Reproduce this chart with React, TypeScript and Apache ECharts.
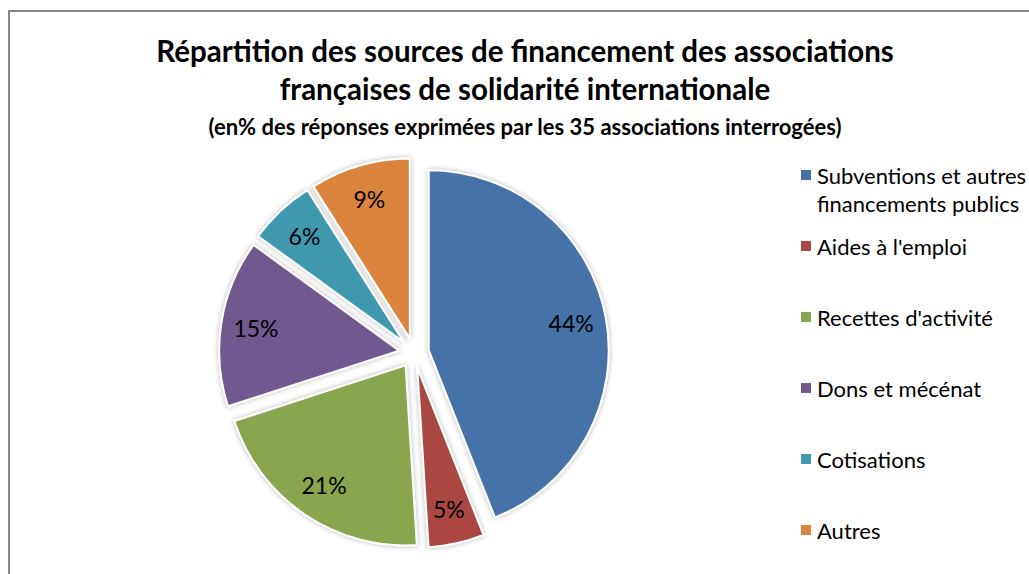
import React, { useEffect, useRef } from "react";
import * as echarts from "echarts";

const categories = [
  "Subventions et autres financements publics",
  "Aides à l'emploi",
  "Recettes d'activité",
  "Dons et mécénat",
  "Cotisations",
  "Autres",
];
const values = [44, 5, 21, 15, 6, 9];
const colors = ["#4572A7", "#AA4643", "#89A54E", "#71588F", "#4198AF", "#DB843D"];
const titleLines = [
  "Répartition des sources de financement des associations",
  "françaises de solidarité internationale",
];
const subtitle = "(en% des réponses exprimées par les 35 associations interrogées)";

export default function App() {
  const ref = useRef<HTMLDivElement>(null);
  useEffect(() => {
    if (!ref.current) return;
    const chart = echarts.init(ref.current, null, { renderer: "svg" });
    const data = categories.map((name, i) => ({
      name,
      value: values[i],
      selected: true,
      itemStyle: { color: colors[i] },
    }));
    const common = {
      type: "pie",
      center: [414, 353],
      startAngle: 90,
      clockwise: true,
      selectedMode: "multiple",
      selectedOffset: 15,
      avoidLabelOverlap: false,
      emphasis: { disabled: true },
      labelLine: { show: false },
    };
    chart.setOption({
      animation: false,
      color: colors,
      title: {
        text: titleLines.join("\n"),
        subtext: subtitle,
        left: 520,
        top: 26,
        textAlign: "center",
        padding: 5,
        itemGap: 7,
        textStyle: {
          fontFamily: "Lato",
          fontWeight: "bold",
          fontSize: 29.5,
          lineHeight: 38,
          color: "#000",
        },
        subtextStyle: {
          fontFamily: "Lato",
          fontWeight: "bold",
          fontSize: 22,
          lineHeight: 24,
          color: "#000",
        },
      },
      legend: {
        orient: "vertical",
        left: 794,
        top: 128,
        height: 560,
        itemWidth: 12,
        itemHeight: 12,
        itemGap: -13,
        icon: "rect",
        selectedMode: false,
        data: categories,
        formatter: (name: string) =>
          name === categories[0]
            ? "\nSubventions et autres\nfinancements publics"
            : "\n" + name + "\n",
        textStyle: {
          fontFamily: "Lato",
          fontSize: 22,
          lineHeight: 28,
          color: "#000",
        },
      },
      graphic: [
        {
          type: "rect",
          shape: { x: 9, y: 11, width: 1200, height: 700 },
          style: { fill: "none", stroke: "#878787", lineWidth: 2 },
          silent: true,
        },
      ],
      series: [
        {
          ...common,
          name: "pie",
          radius: 180,
          label: { show: false },
          itemStyle: {
            borderColor: "#ffffff",
            borderWidth: 2,
            shadowBlur: 5,
            shadowColor: "rgba(0,0,0,0.3)",
          },
          data,
        },
        {
          ...common,
          name: "labels",
          radius: [104, 180],
          silent: true,
          label: {
            show: true,
            position: "inside",
            formatter: "{c}%",
            fontFamily: "Lato",
            fontSize: 23,
            color: "#000",
          },
          itemStyle: { color: "transparent", borderWidth: 0 },
          data: categories.map((name, i) => ({
            name,
            value: values[i],
            selected: true,
            itemStyle: { color: "transparent" },
          })),
        },
      ],
    });
    return () => chart.dispose();
  }, []);
  return (
    <div
      ref={ref}
      style={{ position: "absolute", left: 0, top: 0, width: 1029, height: 574, background: "#fff" }}
    />
  );
}
